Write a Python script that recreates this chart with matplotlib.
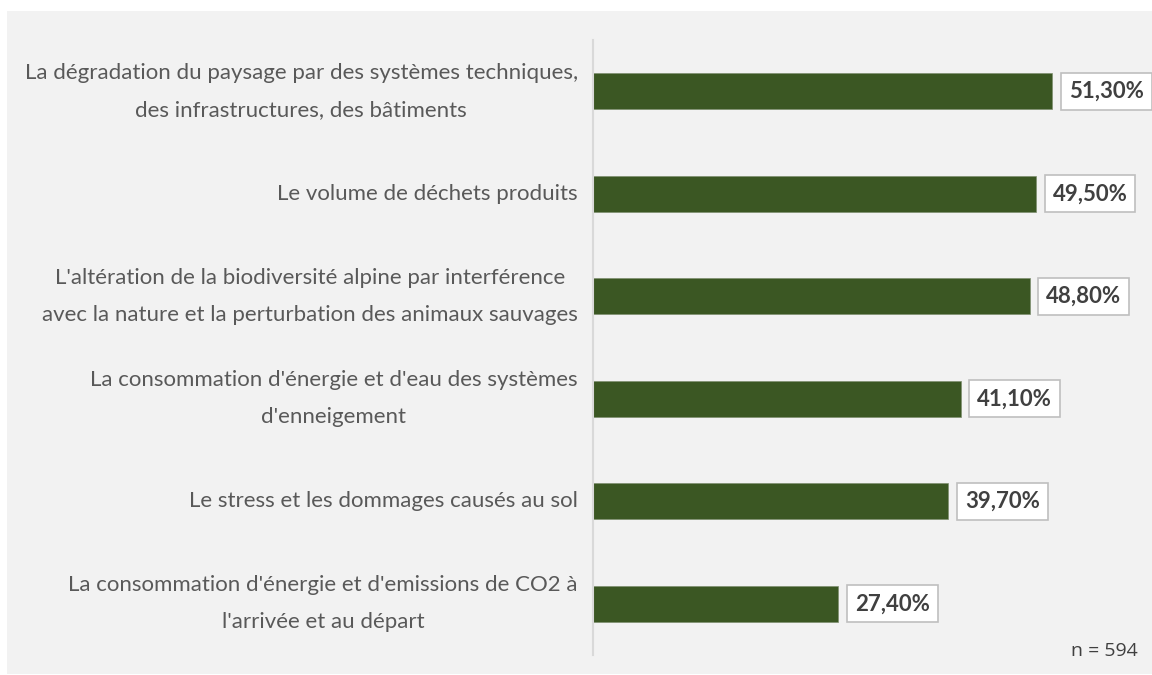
import matplotlib
matplotlib.use("Agg")
import matplotlib.pyplot as plt
from matplotlib.patches import Rectangle
from matplotlib.transforms import offset_copy

categories = [
    "La dégradation du paysage par des systèmes techniques,\ndes infrastructures, des bâtiments",
    "Le volume de déchets produits",
    "L'altération de la biodiversité alpine par interférence\navec la nature et la perturbation des animaux sauvages",
    "La consommation d'énergie et d'eau des systèmes\nd'enneigement",
    "Le stress et les dommages causés au sol",
    "La consommation d'énergie et d'emissions de CO2 à\nl'arrivée et au départ",
]
values = [51.3, 49.5, 48.8, 41.1, 39.7, 27.4]
value_labels = ["51,30%", "49,50%", "48,80%", "41,10%", "39,70%", "27,40%"]
note = "n = 594"

W, H = 1152, 675
fig = plt.figure(figsize=(W / 100, H / 100), dpi=100, facecolor="white")

# gray panel
fig.patches.append(Rectangle((7 / W, 1 / H), (W - 7) / W, (664 - 1) / H,
                             transform=fig.transFigure, facecolor="#f2f2f2",
                             edgecolor="none", zorder=-10))

ax_left, ax_right = 593, 1140
ax_top, ax_bot = 40, 655
ax = fig.add_axes([ax_left / W, (H - ax_bot) / H, (ax_right - ax_left) / W, (ax_bot - ax_top) / H])
ax.set_zorder(5)
ax.set_facecolor("none")

px_per_unit = 8.947
ax.set_xlim(0, (ax_right - ax_left) / px_per_unit)
n = len(values)
ax.set_ylim(n - 0.5, -0.5)

ypos = list(range(n))
ax.barh(ypos, values, height=0.35, color="#3b5723", edgecolor="#7f8f70", linewidth=0.5, zorder=2)

for y, v, lab in zip(ypos, values, value_labels):
    ax.annotate(lab, xy=(v, y), xytext=(12, 0), textcoords="offset points",
                ha="left", va="center", fontsize=16, fontweight="bold",
                family=["Lato", "DejaVu Sans"], color="#404040",
                bbox=dict(boxstyle="square,pad=0.36", facecolor="white",
                          edgecolor="#bfbfbf", linewidth=1.2), zorder=3,
                annotation_clip=False)

# category labels
ax.set_yticks([])
ytrans = ax.get_yaxis_transform()
for y, cat in zip(ypos, categories):
    tr = offset_copy(ytrans, fig=fig, x=-11, y=0, units="points")
    ax.text(0, y, cat, transform=tr, ha="right", va="center",
            multialignment="center", fontsize=16, color="#595959",
            family=["Lato", "DejaVu Sans"], linespacing=2.05, clip_on=False)

ax.set_xticks([])
for s in ["top", "right", "bottom"]:
    ax.spines[s].set_visible(False)
ax.spines["left"].set_color("#d9d9d9")
ax.spines["left"].set_linewidth(1.5)

t = fig.text(1138 / W, (H - 651) / H, note, ha="right", va="center", fontsize=14,
             color="#404040", family=["Open Sans", "DejaVu Sans"])
t.set_zorder(6)

fig.savefig("out.png", dpi=100, facecolor="white")
